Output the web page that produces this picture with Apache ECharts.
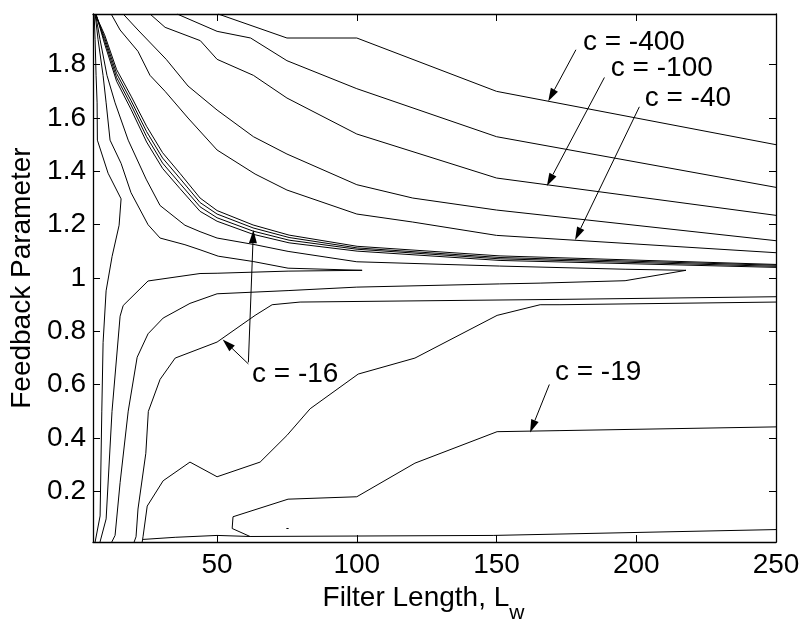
<!DOCTYPE html>
<html>
<head>
<meta charset="utf-8">
<script src="https://cdn.jsdelivr.net/npm/echarts@6/dist/echarts.min.js"></script>
<style>
  html, body { margin: 0; background: #fff; }
  #chart { width: 807px; height: 629px; }
</style>
</head>
<body>
<div id="chart"></div>
<script>
// contour lines, points are [filter length, feedback parameter]
const upper1 = [[50.4,1.99],[75,1.90],[100,1.90],[150,1.70],[250,1.50]]
const upper2 = [[35.7,1.99],[50,1.925],[62,1.90],[75,1.815],[100,1.71],[150,1.53],[250,1.34]]
const upper3 = [[26,1.99],[31.4,1.94],[44,1.89],[50,1.82],[63,1.76],[75,1.675],[100,1.54],[150,1.375],[250,1.235]]
const upper4 = [[16.4,1.99],[21.7,1.93],[31.8,1.82],[39.6,1.72],[50,1.63],[63,1.53],[75,1.465],[100,1.35],[120,1.30],[150,1.255],[250,1.14]]
const upper5 = [[12.1,1.99],[15.3,1.93],[21.7,1.85],[26,1.76],[31.4,1.70],[39.6,1.60],[50,1.48],[63.6,1.39],[75,1.33],[100,1.24],[120,1.21],[150,1.16],[250,1.095]]

// tight bundle of four lines running into feedback ~1.05
const bundle1 = [[6.4,1.99],[9.75,1.912],[14.04,1.782],[19.23,1.682],[24.78,1.569],[30.5,1.470],[36.76,1.392],[43.92,1.300],[50,1.253],[62.88,1.199],[75.76,1.161],[100.1,1.119],[151.25,1.083],[250,1.051]]
const bundle2 = [[6.5,1.99],[9.75,1.901],[14.04,1.767],[19.23,1.665],[24.78,1.549],[30.5,1.450],[36.76,1.373],[43.92,1.283],[50,1.240],[62.88,1.188],[75.76,1.152],[100.1,1.113],[151.25,1.077],[250,1.048]]
const bundle3 = [[6.6,1.99],[9.75,1.890],[14.04,1.752],[19.23,1.649],[24.78,1.530],[30.5,1.431],[36.76,1.354],[43.92,1.267],[50,1.226],[62.88,1.176],[75.76,1.142],[100.1,1.108],[151.25,1.072],[250,1.044]]
const bundle4 = [[6.7,1.99],[9.75,1.878],[14.04,1.738],[19.23,1.632],[24.78,1.510],[30.5,1.411],[36.76,1.335],[43.92,1.250],[50,1.213],[62.88,1.164],[75.76,1.132],[100.1,1.101],[151.25,1.066],[250,1.040]]

// hairpin contours that turn back near feedback = 1
const loopShort = [[6.35,1.99],[7.4,1.895],[9.2,1.76],[10.3,1.657],[11.7,1.517],[15.65,1.43],[19.2,1.32],[25.3,1.20],[29.6,1.15],[38.5,1.125],[43.9,1.106],[50.4,1.082],[62.9,1.062],[75.4,1.037],[101.9,1.029],[75.4,1.026],[50,1.018],[43.9,1.017],[25.3,0.989],[16.4,0.897],[15.3,0.857],[12.4,0.50],[10.3,0.097],[8.1,0.01]]
const loopLong = [[6.5,1.99],[8.1,1.895],[10.6,1.76],[13.5,1.657],[18.2,1.517],[24.6,1.371],[29.6,1.272],[38.5,1.198],[43.9,1.174],[50,1.150],[63.6,1.125],[75.4,1.100],[100,1.061],[151,1.045],[196,1.033],[217.8,1.029],[196,0.990],[165.6,0.981],[151,0.978],[100,0.966],[75.4,0.953],[50,0.941],[40.3,0.905],[30.7,0.850],[25.3,0.791],[21.4,0.703],[18.2,0.501],[15.3,0.233],[13.5,0.035],[12.3,0.01]]
const leftEdge = [[6.0,1.99],[6.35,1.895],[6.7,1.76],[7.07,1.657],[7.17,1.517],[11.0,1.393],[15.65,1.297],[14.94,1.198],[12.43,1.081],[10.29,0.952],[9.21,0.758],[8.75,0.501],[8.14,0.108],[6.35,0.01]]

const lower16 = [[20.3,0.01],[21.0,0.03],[21.7,0.134],[24.5,0.343],[25.4,0.50],[29.6,0.62],[35,0.70],[50,0.76],[63.6,0.86],[69.7,0.90],[79.7,0.91],[172.7,0.92],[250,0.93]]
const lowerN = [[23.2,0.01],[23.5,0.03],[25,0.145],[30.7,0.24],[40.3,0.31],[50,0.255],[65.4,0.31],[75,0.41],[83.3,0.51],[100.5,0.64],[120.8,0.70],[150.2,0.86],[165.6,0.90],[172.7,0.90],[250,0.91]]
const lower19 = [[250,0.442],[172.7,0.428],[150.2,0.424],[120.8,0.306],[100,0.18],[75.4,0.171],[55.7,0.105],[55.4,0.061],[61.8,0.031],[148.8,0.035],[250,0.057]]
const bottomLeft = [[23.5,0.02],[35,0.028],[50,0.035],[61.8,0.031]]
const tinyDash = [[74.8,0.061],[75.6,0.061]]

const xTicks = [50, 100, 150, 200, 250]
const yTicks = [0.2, 0.4, 0.6, 0.8, 1, 1.2, 1.4, 1.6, 1.8]

// annotations
const labelText = ['c = -400', 'c = -100', 'c = -40', 'c = -16', 'c = -19']
const labelPos = [[180.9,1.885],[190.9,1.785],[203,1.674],[62.5,0.64],[170.9,0.645]]
const arrowFrom = [[178.4,1.856],[188.6,1.752],[201.1,1.642],[61.2,0.678],[61.2,0.684],[168.9,0.601]]
const arrowTo = [[168.5,1.663],[168.0,1.345],[178.1,1.143],[52.0,0.770],[63.0,1.180],[162.0,0.421]]

const contours = [upper1, upper2, upper3, upper4, upper5, bundle1, bundle2, bundle3, bundle4,
  loopShort, loopLong, leftEdge, lower16, lowerN, lower19, bottomLeft, tinyDash]

const font = '"Liberation Sans", Arial, sans-serif'
const fs = 28
const chart = echarts.init(document.getElementById('chart'))

const frame = {
  axisLine: { show: true, onZero: false, lineStyle: { color: '#000', width: 1.3 } },
  splitLine: { show: false }
}

chart.setOption({
  animation: false,
  backgroundColor: '#fff',
  grid: { left: 93, top: 14, right: 31, bottom: 75 },
  xAxis: [
    {
      type: 'value', min: 5.6, max: 250, position: 'bottom', ...frame,
      axisTick: { show: true, inside: true, length: 7, customValues: xTicks, lineStyle: { color: '#000' } },
      axisLabel: { customValues: xTicks, color: '#000', fontSize: fs, fontFamily: font, margin: 9 },
      name: '{a|Filter Length, L}{w|w}',
      nameLocation: 'middle',
      nameGap: 31,
      nameTextStyle: {
        color: '#000',
        padding: [0, 22, 0, 0],
        rich: {
          a: { fontSize: fs, fontFamily: font, color: '#000', lineHeight: 30, verticalAlign: 'top' },
          w: { fontSize: 21, fontFamily: font, color: '#000', lineHeight: 21, verticalAlign: 'top', padding: [19, 0, 0, 0] }
        }
      }
    },
    {
      type: 'value', min: 5.6, max: 250, position: 'top', ...frame,
      axisTick: { show: true, inside: true, length: 7, customValues: xTicks, lineStyle: { color: '#000' } },
      axisLabel: { show: false }
    }
  ],
  yAxis: [
    {
      type: 'value', min: 0.01, max: 1.99, position: 'left', ...frame,
      axisTick: { show: true, inside: true, length: 7, customValues: yTicks, lineStyle: { color: '#000' } },
      axisLabel: { customValues: yTicks, color: '#000', fontSize: fs, fontFamily: font, margin: 7, formatter: v => String(v) },
      name: 'Feedback Parameter',
      nameLocation: 'middle',
      nameGap: 52,
      nameTextStyle: { color: '#000', fontSize: fs, fontFamily: font }
    },
    {
      type: 'value', min: 0.01, max: 1.99, position: 'right', ...frame,
      axisTick: { show: true, inside: true, length: 7, customValues: yTicks, lineStyle: { color: '#000' } },
      axisLabel: { show: false }
    }
  ],
  series: contours.map(d => ({
    type: 'line',
    data: d,
    xAxisIndex: 0,
    yAxisIndex: 0,
    symbol: 'none',
    silent: true,
    lineStyle: { color: '#000', width: 1 }
  }))
})

// arrows and labels, placed from data coordinates
const toPx = p => chart.convertToPixel({ xAxisIndex: 0, yAxisIndex: 0 }, p)
const graphics = []
arrowFrom.forEach((f, i) => {
  const a = toPx(f)
  const b = toPx(arrowTo[i])
  const dx = b[0] - a[0], dy = b[1] - a[1]
  const len = Math.sqrt(dx * dx + dy * dy)
  const ux = dx / len, uy = dy / len
  const hl = 13, hw = 4
  const bx = b[0] - ux * hl, by = b[1] - uy * hl
  graphics.push({
    type: 'line', silent: true,
    shape: { x1: a[0], y1: a[1], x2: bx, y2: by },
    style: { stroke: '#000', lineWidth: 1 }
  })
  graphics.push({
    type: 'polygon', silent: true,
    shape: { points: [[b[0], b[1]], [bx - uy * hw, by + ux * hw], [bx + uy * hw, by - ux * hw]] },
    style: { fill: '#000' }
  })
})
labelText.forEach((t, i) => {
  const p = toPx(labelPos[i])
  graphics.push({
    type: 'text', silent: true, x: p[0], y: p[1],
    style: { text: t, fill: '#000', fontSize: fs, fontFamily: font, align: 'left', verticalAlign: 'middle' }
  })
})
chart.setOption({ graphic: graphics })
</script>
</body>
</html>
